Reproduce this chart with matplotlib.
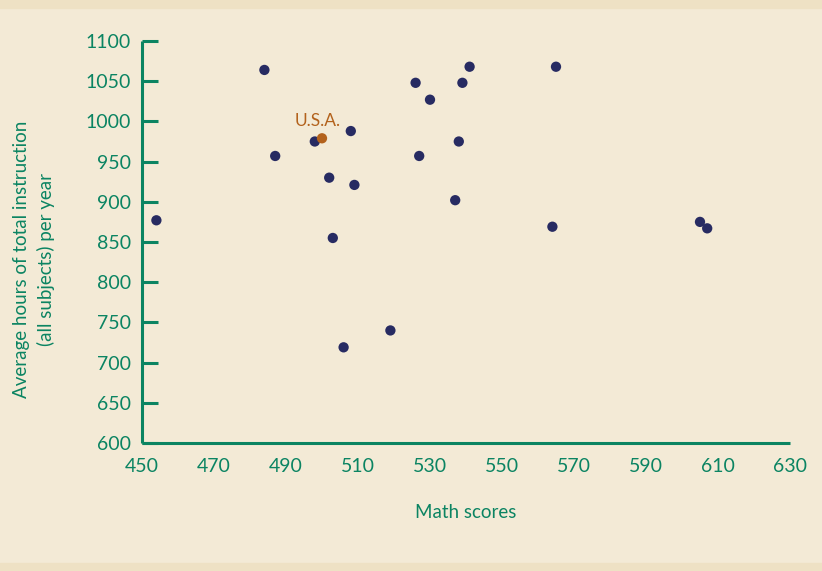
import matplotlib
matplotlib.use("Agg")
import matplotlib.pyplot as plt

math_scores = [454, 484, 487, 498, 508, 502, 509, 503, 506, 519, 526, 527, 530, 539, 541, 538, 537, 564, 565, 605, 607]
hours = [877, 1064, 957, 975, 988, 930, 921, 855, 719, 740, 1048, 957, 1027, 1048, 1068, 975, 902, 869, 1068, 875, 867]
usa_score = [500]
usa_hours = [979]
x_ticks = [450, 470, 490, 510, 530, 550, 570, 590, 610, 630]
y_ticks = [600, 650, 700, 750, 800, 850, 900, 950, 1000, 1050, 1100]

GREEN = "#0B8462"
NAVY = "#272B62"
ORANGE = "#B3621C"
BG = "#F3EAD6"
STRIP = "#EEE1C4"

plt.rcParams['font.family'] = ['Lato', 'DejaVu Sans']

fig = plt.figure(figsize=(8.22, 5.71), dpi=100)
fig.patch.set_facecolor(BG)
fig.add_artist(plt.Rectangle((0, 1 - 8/571), 1, 8/571, transform=fig.transFigure, color=STRIP, zorder=0))
fig.add_artist(plt.Rectangle((0, 0), 1, 8/571, transform=fig.transFigure, color=STRIP, zorder=0))

ax = fig.add_axes([142/822, 1 - 443/571, (790-142)/822, (443-41)/571])
ax.patch.set_alpha(0)

ax.scatter(math_scores, hours, s=55, color=NAVY, edgecolors='none', zorder=3, clip_on=False)
ax.scatter(usa_score, usa_hours, s=55, color=ORANGE, edgecolors='none', zorder=4, clip_on=False)
ax.text(usa_score[0] - 1.3, usa_hours[0] + 12, "U.S.A.", color=ORANGE, fontsize=12.5,
        ha='center', va='bottom')

ax.set_xlim(450, 630)
ax.set_ylim(600, 1100)
ax.set_xticks(x_ticks)
ax.set_yticks(y_ticks)

for s in ['top', 'right']:
    ax.spines[s].set_visible(False)
for s in ['left', 'bottom']:
    ax.spines[s].set_color(GREEN)
    ax.spines[s].set_linewidth(2.2)
    ax.spines[s].set_capstyle('butt')

ax.tick_params(axis='y', direction='in', length=11.5, width=2.2, color=GREEN,
               labelcolor=GREEN, labelsize=14, pad=8)
ax.tick_params(axis='x', length=0, labelcolor=GREEN, labelsize=14, pad=11)

ax.set_xlabel("Math scores", color=GREEN, fontsize=13.5, labelpad=21)
fig.text(34/822, 1 - 259/571, "Average hours of total instruction\n(all subjects) per year",
         rotation=90, ha='center', va='center', color=GREEN, fontsize=13.5,
         linespacing=1.5, multialignment='center')

fig.savefig("out.png", dpi=100, facecolor=BG)
